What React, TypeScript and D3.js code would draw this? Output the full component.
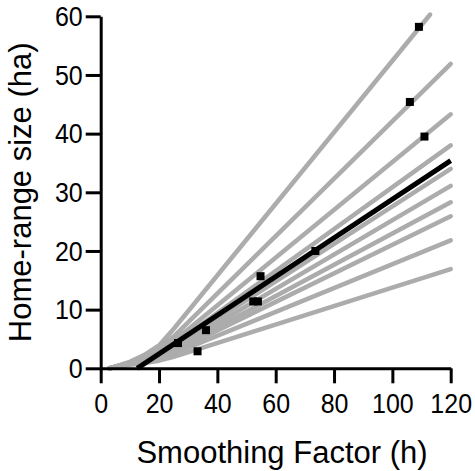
import React, { useRef, useEffect } from "react";
import * as d3 from "d3";

// smoothing factor values (h) at which each individual curve is read
const curveH = [3, 10, 15, 20, 25, 120];

// home-range size (ha) for each individual, one row per gray curve
const curveSizes = [
  [0, 1.1, 2.3, 3.9, 6.7, 64.6],
  [0, 1.0, 2.0, 3.4, 5.4, 51.9],
  [0, 0.95, 1.9, 3.0, 4.6, 43.3],
  [0, 0.9, 1.8, 2.8, 4.1, 38.0],
  [0, 0.85, 1.7, 2.6, 3.6, 34.0],
  [0, 0.8, 1.6, 2.4, 3.3, 31.1],
  [0, 0.75, 1.5, 2.3, 3.0, 28.3],
  [0, 0.7, 1.4, 2.1, 2.8, 25.9],
  [0, 0.65, 1.2, 1.7, 2.5, 21.8],
  [0, 0.6, 0.9, 1.3, 1.95, 16.9],
];

// regression line
const fitH = [12.5, 120];
const fitSize = [0, 35.4];

// chosen h per individual
const pointH = [26.5, 33.2, 36.1, 52.3, 53.9, 54.8, 73.6, 106.0, 109.1, 111.0];
const pointSize = [4.3, 2.9, 6.5, 11.4, 11.4, 15.7, 20.0, 45.4, 58.2, 39.5];

const xTicks = [0, 20, 40, 60, 80, 100, 120];
const yTicks = [0, 10, 20, 30, 40, 50, 60];

const width = 475;
const height = 471;
const margin = { top: 16.3, right: 24.3, bottom: 102.7, left: 100.7 };
const font = "'Liberation Sans', Arial, Helvetica, sans-serif";

const App: React.FC = () => {
  const xAxisRef = useRef<SVGGElement | null>(null);
  const yAxisRef = useRef<SVGGElement | null>(null);

  const x = d3
    .scaleLinear()
    .domain([0, 120])
    .range([margin.left, width - margin.right]);
  const y = d3
    .scaleLinear()
    .domain([0, 60])
    .range([height - margin.bottom, margin.top]);

  const line = d3
    .line<[number, number]>()
    .x((d) => x(d[0]))
    .y((d) => y(d[1]));

  // clip the steepest curve where it leaves the top of the plot
  const clipped = (rows: [number, number][]) => {
    const out: [number, number][] = [];
    for (let i = 0; i < rows.length; i++) {
      const p = rows[i];
      if (p[1] <= 60.3) {
        out.push(p);
      } else {
        const prev = rows[i - 1];
        const t = (60.3 - prev[1]) / (p[1] - prev[1]);
        out.push([prev[0] + t * (p[0] - prev[0]), 60.3]);
        break;
      }
    }
    return out;
  };

  useEffect(() => {
    if (!xAxisRef.current || !yAxisRef.current) return;

    const gx = d3.select(xAxisRef.current);
    gx.selectAll("*").remove();
    gx.call(
      d3
        .axisBottom(x)
        .tickValues(xTicks)
        .tickSize(15)
        .tickSizeOuter(0)
        .tickPadding(11)
    );

    const gy = d3.select(yAxisRef.current);
    gy.selectAll("*").remove();
    gy.call(
      d3
        .axisLeft(y)
        .tickValues(yTicks)
        .tickSize(15)
        .tickSizeOuter(0)
        .tickPadding(3)
    );

    [gx, gy].forEach((g) => {
      g.select(".domain").attr("stroke", "#000").attr("stroke-width", 3);
      g.selectAll(".tick line").attr("stroke", "#000").attr("stroke-width", 3);
      g.selectAll(".tick text")
        .attr("fill", "#000")
        .attr("font-size", 25)
        .attr("font-family", font)
        .style("transform-box", "fill-box")
        .style("transform-origin", "center")
        .style("transform", "scaleY(1.13)");
    });
  }, []);

  return (
    <svg
      width={width}
      height={height}
      style={{ position: "absolute", left: 0, top: 0, background: "#fff" }}
    >
      <g>
        {curveSizes.map((row, i) => (
          <path
            key={i}
            d={line(clipped(curveH.map((h, j) => [h, row[j]]))) || ""}
            fill="none"
            stroke="#acacac"
            strokeWidth={4.5}
            strokeLinejoin="round"
            strokeLinecap="round"
          />
        ))}
        <path
          d={line(fitH.map((h, j) => [h, fitSize[j]])) || ""}
          fill="none"
          stroke="#000"
          strokeWidth={5}
        />
        {pointH.map((h, i) => (
          <rect
            key={i}
            x={x(h) - 4}
            y={y(pointSize[i]) - 4}
            width={8}
            height={8}
            fill="#000"
          />
        ))}
      </g>
      <g ref={xAxisRef} transform={`translate(0,${height - margin.bottom})`} />
      <g ref={yAxisRef} transform={`translate(${margin.left},0)`} />
      <text
        x={282}
        y={463}
        textAnchor="middle"
        fontSize={31}
        fontFamily={font}
        fill="#000"
      >
        Smoothing Factor (h)
      </text>
      <text
        transform={`translate(31,${(margin.top + height - margin.bottom) / 2}) rotate(-90)`}
        textAnchor="middle"
        fontSize={31}
        fontFamily={font}
        fill="#000"
      >
        Home-range size (ha)
      </text>
    </svg>
  );
};

export default App;
